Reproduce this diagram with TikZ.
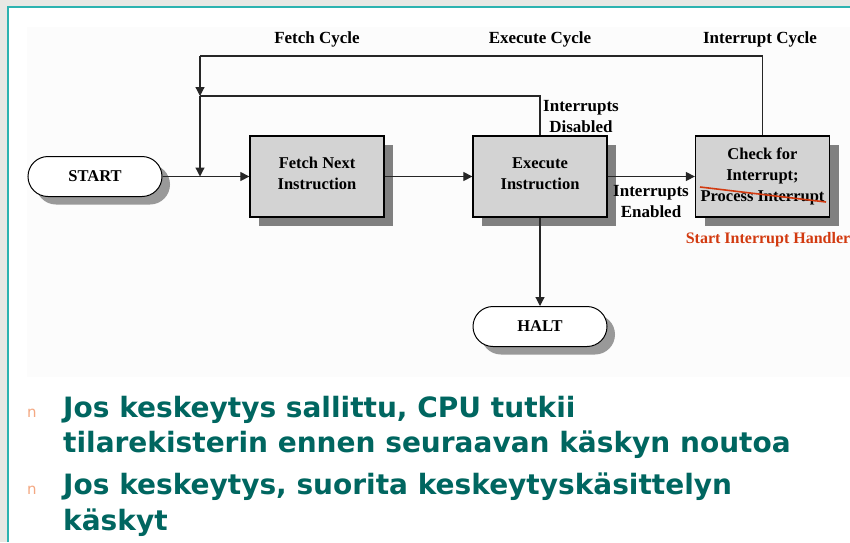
\documentclass[tikz,border=0pt]{standalone}
\usepackage{fontspec}
\setmainfont{Liberation Serif}
\newfontfamily\bulletfont{DejaVu Sans}
\usetikzlibrary{shapes.misc,shadows,arrows.meta}
\definecolor{marble}{HTML}{E8E8E4}
\definecolor{tealc}{HTML}{2DB3B0}
\definecolor{panel}{HTML}{FCFCFC}
\definecolor{boxfill}{HTML}{D3D3D3}
\definecolor{shade}{HTML}{808080}
\definecolor{redtxt}{HTML}{D23A10}
\definecolor{bodytxt}{HTML}{006660}
\definecolor{bulletc}{HTML}{F4A882}
\tikzset{
  lab/.style={font=\fontsize{17}{21}\selectfont\bfseries, align=center, inner sep=0pt},
  stepbox/.style={draw=black, line width=1.3pt, fill=boxfill, minimum width=134pt, minimum height=81pt,
     align=center, font=\fontsize{16.5}{21}\selectfont\bfseries, inner sep=0pt,
     drop shadow={shadow xshift=9pt, shadow yshift=-9pt, fill=shade, opacity=1}},
  termin/.style={draw=black, line width=1pt, fill=white, rounded rectangle, minimum width=134pt, minimum height=40pt,
     font=\fontsize{16.5}{21}\selectfont\bfseries, inner sep=0pt,
     drop shadow={shadow xshift=8pt, shadow yshift=-8pt, fill=shade!80, opacity=1}},
  conn/.style={line width=1.2pt, black!85},
  arr/.style={conn, -{Triangle[length=9pt, width=9pt]}},
  body/.style={font=\bulletfont\bfseries\fontsize{28}{34}\selectfont, text=bodytxt, anchor=base west, inner sep=0pt},
  bul/.style={font=\bulletfont\fontsize{15}{18}\selectfont, text=bulletc, anchor=base west, inner sep=0pt}
}
\begin{document}
\begin{tikzpicture}[x=1pt,y=-1pt]
\useasboundingbox (0,0) rectangle (850,542);
\fill[marble] (0,0) rectangle (850,542);
\fill[white] (7,6) rectangle (850,542);
\draw[tealc, line width=2pt] (7.5,542) -- (7.5,6.5) -- (850,6.5);
\fill[panel] (27,27) rectangle (850,377);

% labels
\node[lab] (lf) at (317,39) {Fetch Cycle};
\node[lab] (le) at (540,39) {Execute Cycle};
\node[lab] (li) at (760,39) {Interrupt Cycle};

% nodes
\node[termin] (start) at (95,176.5) {START};
\node[stepbox] (fetch) at (317,176.5) {Fetch Next\\Instruction\\[-15pt]};
\node[stepbox] (exec) at (540,176.5) {Execute\\Instruction\\[-15pt]};
\node[stepbox] (check) at (762.5,176.5) {Check for\\Interrupt;\\Process Interrupt};
\node[termin] (halt) at (540,326.5) {HALT};

\node[lab] (ldis) at (581,116.5) {Interrupts\\Disabled};
\node[lab] (len) at (651,202) {Interrupts\\Enabled};
\node[lab, text=redtxt, font=\fontsize{16}{20}\selectfont\bfseries] (lsih) at (768,240) {Start Interrupt Handler};

% strike
\coordinate (s1) at (700,187);
\coordinate (s2) at (826,202);
\draw[redtxt, line width=1.6pt] (s1) -- (s2);

% connectors
\coordinate (j1) at (200,176.5);
\coordinate (j2) at (200,96);
\coordinate (j3) at (200,56);
\draw[conn] (start.east) -- (j1);
\draw[arr] (j1) -- (fetch.west);
\draw[arr] (j3) -- (j2);
\draw[arr] (j2) -- (j1);
\draw[conn] (exec.north) |- (j2);
\draw[conn] (check.north) |- (j3);
\draw[arr] (fetch.east) -- (exec.west);
\draw[arr] (exec.east) -- (check.west);
\draw[arr] (exec.south) -- (halt.north);

% bullet text
\node[bul] (b1) at (27,417) {n};
\node[body] (t1) at (63,417) {Jos keskeytys sallittu, CPU tutkii};
\node[body] (t2) at (63,452) {tilarekisterin ennen seuraavan käskyn noutoa};
\node[bul] (b2) at (27,494) {n};
\node[body] (t3) at (63,494) {Jos keskeytys, suorita keskeytyskäsittelyn};
\node[body] (t4) at (63,530) {käskyt};
\end{tikzpicture}
\end{document}
